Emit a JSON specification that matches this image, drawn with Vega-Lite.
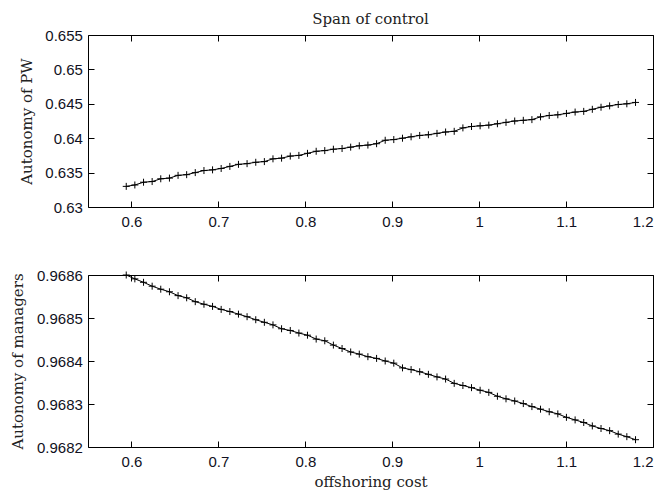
{
  "$schema": "https://vega.github.io/schema/vega-lite/v6.json",
  "padding": {"left": 10, "top": 11, "right": 0, "bottom": 3},
  "background": "white",
  "spacing": 37,
  "config": {
    "view": {"stroke": "black", "strokeWidth": 1},
    "axis": {
      "grid": false,
      "domain": false,
      "tickColor": "black",
      "tickSize": -6,
      "labelFont": "Liberation Sans",
      "labelFontSize": 15,
      "labelColor": "#111122",
      "titleFont": "DejaVu Serif",
      "titleFontSize": 15,
      "titleFontWeight": "normal",
      "titleColor": "#222222"
    },
    "axisX": {"labelPadding": 13.3, "titlePadding": 5},
    "axisY": {"labelPadding": 11.6, "titlePadding": 10.6},
    "title": {"font": "DejaVu Serif", "fontSize": 15, "fontWeight": "normal", "color": "#222222", "offset": 1.5}
  },
  "datasets": {
    "pw": [
      {"x": 0.5940, "y": 0.6330}, {"x": 0.6039, "y": 0.6332}, {"x": 0.6139, "y": 0.6336}, {"x": 0.6238, "y": 0.6337},
      {"x": 0.6337, "y": 0.6341}, {"x": 0.6437, "y": 0.6342}, {"x": 0.6536, "y": 0.6346}, {"x": 0.6635, "y": 0.6347},
      {"x": 0.6734, "y": 0.6350}, {"x": 0.6834, "y": 0.6353}, {"x": 0.6933, "y": 0.6354}, {"x": 0.7032, "y": 0.6356},
      {"x": 0.7132, "y": 0.6359}, {"x": 0.7231, "y": 0.6362}, {"x": 0.7330, "y": 0.6363}, {"x": 0.7430, "y": 0.6365},
      {"x": 0.7529, "y": 0.6366}, {"x": 0.7628, "y": 0.6370}, {"x": 0.7727, "y": 0.6371}, {"x": 0.7827, "y": 0.6374},
      {"x": 0.7926, "y": 0.6375}, {"x": 0.8025, "y": 0.6378}, {"x": 0.8125, "y": 0.6381}, {"x": 0.8224, "y": 0.6382},
      {"x": 0.8323, "y": 0.6384}, {"x": 0.8423, "y": 0.6385}, {"x": 0.8522, "y": 0.6387}, {"x": 0.8621, "y": 0.6389},
      {"x": 0.8720, "y": 0.6390}, {"x": 0.8820, "y": 0.6392}, {"x": 0.8919, "y": 0.6397}, {"x": 0.9018, "y": 0.6398},
      {"x": 0.9118, "y": 0.6400}, {"x": 0.9217, "y": 0.6402}, {"x": 0.9316, "y": 0.6404}, {"x": 0.9416, "y": 0.6405},
      {"x": 0.9515, "y": 0.6407}, {"x": 0.9614, "y": 0.6409}, {"x": 0.9713, "y": 0.6410}, {"x": 0.9813, "y": 0.6415},
      {"x": 0.9912, "y": 0.6417}, {"x": 1.0011, "y": 0.6418}, {"x": 1.0111, "y": 0.6419}, {"x": 1.0210, "y": 0.6421},
      {"x": 1.0309, "y": 0.6423}, {"x": 1.0409, "y": 0.6425}, {"x": 1.0508, "y": 0.6426}, {"x": 1.0607, "y": 0.6427},
      {"x": 1.0706, "y": 0.6431}, {"x": 1.0806, "y": 0.6433}, {"x": 1.0905, "y": 0.6434}, {"x": 1.1004, "y": 0.6436},
      {"x": 1.1104, "y": 0.6438}, {"x": 1.1203, "y": 0.6439}, {"x": 1.1302, "y": 0.6442}, {"x": 1.1402, "y": 0.6445},
      {"x": 1.1501, "y": 0.6447}, {"x": 1.1600, "y": 0.6449}, {"x": 1.1699, "y": 0.6450}, {"x": 1.1799, "y": 0.6452}
    ],
    "mgr": [
      {"x": 0.5940, "y": 0.968600}, {"x": 0.6039, "y": 0.968591}, {"x": 0.6139, "y": 0.968583}, {"x": 0.6238, "y": 0.968574},
      {"x": 0.6337, "y": 0.968567}, {"x": 0.6437, "y": 0.968561}, {"x": 0.6536, "y": 0.968552}, {"x": 0.6635, "y": 0.968547},
      {"x": 0.6734, "y": 0.968538}, {"x": 0.6834, "y": 0.968532}, {"x": 0.6933, "y": 0.968527}, {"x": 0.7032, "y": 0.968520},
      {"x": 0.7132, "y": 0.968515}, {"x": 0.7231, "y": 0.968509}, {"x": 0.7330, "y": 0.968503}, {"x": 0.7430, "y": 0.968496},
      {"x": 0.7529, "y": 0.968490}, {"x": 0.7628, "y": 0.968484}, {"x": 0.7727, "y": 0.968475}, {"x": 0.7827, "y": 0.968471},
      {"x": 0.7926, "y": 0.968465}, {"x": 0.8025, "y": 0.968460}, {"x": 0.8125, "y": 0.968451}, {"x": 0.8224, "y": 0.968447},
      {"x": 0.8323, "y": 0.968437}, {"x": 0.8423, "y": 0.968429}, {"x": 0.8522, "y": 0.968421}, {"x": 0.8621, "y": 0.968416},
      {"x": 0.8720, "y": 0.968410}, {"x": 0.8820, "y": 0.968406}, {"x": 0.8919, "y": 0.968400}, {"x": 0.9018, "y": 0.968395},
      {"x": 0.9118, "y": 0.968384}, {"x": 0.9217, "y": 0.968380}, {"x": 0.9316, "y": 0.968375}, {"x": 0.9416, "y": 0.968369},
      {"x": 0.9515, "y": 0.968363}, {"x": 0.9614, "y": 0.968358}, {"x": 0.9713, "y": 0.968348}, {"x": 0.9813, "y": 0.968343},
      {"x": 0.9912, "y": 0.968338}, {"x": 1.0011, "y": 0.968332}, {"x": 1.0111, "y": 0.968327}, {"x": 1.0210, "y": 0.968318},
      {"x": 1.0309, "y": 0.968312}, {"x": 1.0409, "y": 0.968307}, {"x": 1.0508, "y": 0.968301}, {"x": 1.0607, "y": 0.968294},
      {"x": 1.0706, "y": 0.968288}, {"x": 1.0806, "y": 0.968282}, {"x": 1.0905, "y": 0.968277}, {"x": 1.1004, "y": 0.968269},
      {"x": 1.1104, "y": 0.968263}, {"x": 1.1203, "y": 0.968257}, {"x": 1.1302, "y": 0.968249}, {"x": 1.1402, "y": 0.968243},
      {"x": 1.1501, "y": 0.968238}, {"x": 1.1600, "y": 0.968230}, {"x": 1.1699, "y": 0.968224}, {"x": 1.1799, "y": 0.968217}
    ]
  },
  "vconcat": [
    {
      "title": "Span of control",
      "width": 565,
      "height": 172,
      "data": {"name": "pw"},
      "layer": [
        {
          "mark": {"type": "line", "color": "black", "strokeWidth": 1},
          "encoding": {
            "x": {"field": "x", "type": "quantitative", "scale": {"domain": [0.55, 1.2], "nice": false, "zero": false},
                  "axis": {"orient": "bottom", "title": null, "values": [0.6, 0.7, 0.8, 0.9, 1.0, 1.1, 1.2], "format": ".1~f"}},
            "y": {"field": "y", "type": "quantitative", "scale": {"domain": [0.63, 0.655], "nice": false, "zero": false},
                  "axis": {"orient": "left", "title": "Autonomy of PW", "values": [0.63, 0.635, 0.64, 0.645, 0.65, 0.655], "format": ".3~f"}}
          }
        },
        {
          "mark": {"type": "point", "shape": "M-1,0L1,0M0,-1L0,1", "filled": false, "stroke": "black", "strokeWidth": 1, "size": 49, "opacity": 1},
          "encoding": {
            "x": {"field": "x", "type": "quantitative", "scale": {"domain": [0.55, 1.2], "nice": false, "zero": false},
                  "axis": {"orient": "top", "title": null, "labels": false, "values": [0.6, 0.7, 0.8, 0.9, 1.0, 1.1, 1.2]}},
            "y": {"field": "y", "type": "quantitative", "scale": {"domain": [0.63, 0.655], "nice": false, "zero": false},
                  "axis": {"orient": "right", "title": null, "labels": false, "values": [0.63, 0.635, 0.64, 0.645, 0.65, 0.655]}}
          }
        }
      ]
    },
    {
      "width": 565,
      "height": 172,
      "data": {"name": "mgr"},
      "layer": [
        {
          "mark": {"type": "line", "color": "black", "strokeWidth": 1},
          "encoding": {
            "x": {"field": "x", "type": "quantitative", "scale": {"domain": [0.55, 1.2], "nice": false, "zero": false},
                  "axis": {"orient": "bottom", "title": "offshoring cost", "values": [0.6, 0.7, 0.8, 0.9, 1.0, 1.1, 1.2], "format": ".1~f"}},
            "y": {"field": "y", "type": "quantitative", "scale": {"domain": [0.9682, 0.9686], "nice": false, "zero": false},
                  "axis": {"orient": "left", "title": "Autonomy of managers", "values": [0.9682, 0.9683, 0.9684, 0.9685, 0.9686], "format": ".4f"}}
          }
        },
        {
          "mark": {"type": "point", "shape": "M-1,0L1,0M0,-1L0,1", "filled": false, "stroke": "black", "strokeWidth": 1, "size": 49, "opacity": 1},
          "encoding": {
            "x": {"field": "x", "type": "quantitative", "scale": {"domain": [0.55, 1.2], "nice": false, "zero": false},
                  "axis": {"orient": "top", "title": null, "labels": false, "values": [0.6, 0.7, 0.8, 0.9, 1.0, 1.1, 1.2]}},
            "y": {"field": "y", "type": "quantitative", "scale": {"domain": [0.9682, 0.9686], "nice": false, "zero": false},
                  "axis": {"orient": "right", "title": null, "labels": false, "values": [0.9682, 0.9683, 0.9684, 0.9685, 0.9686]}}
          }
        }
      ]
    }
  ]
}
